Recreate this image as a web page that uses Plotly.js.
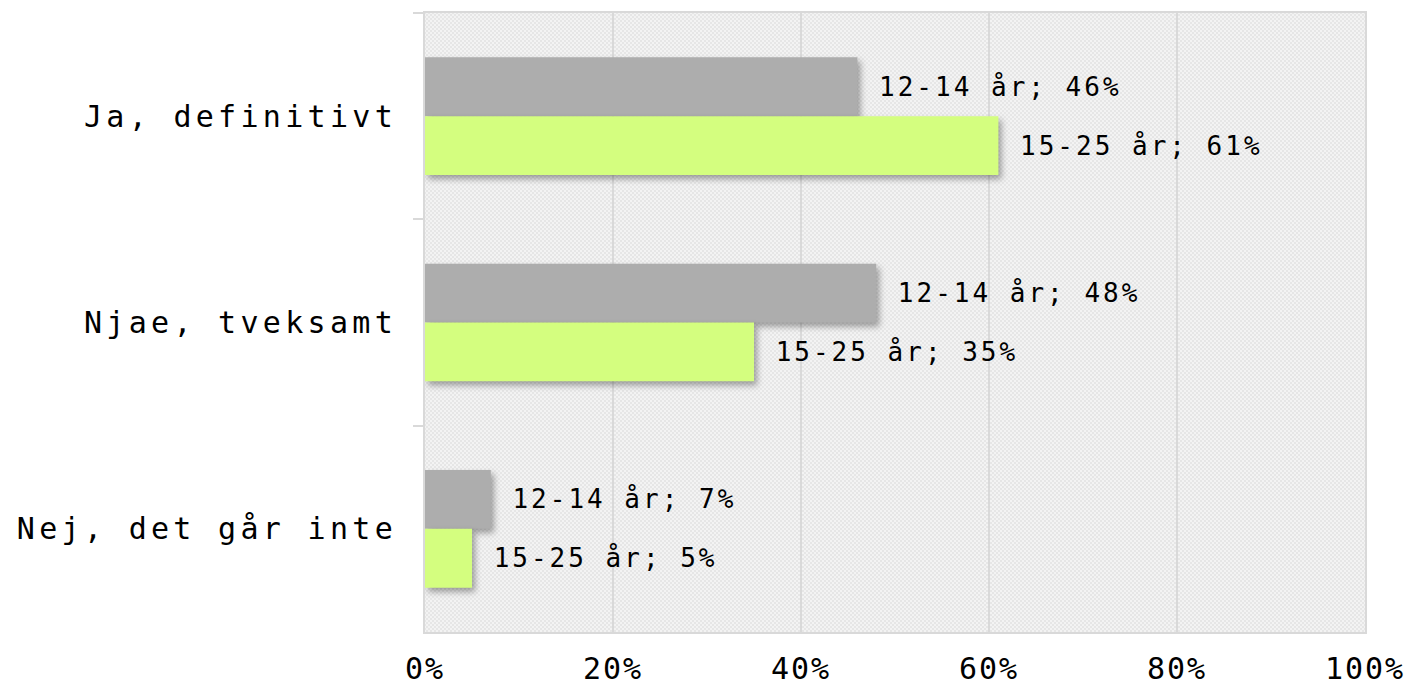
<!DOCTYPE html>
<html>
<head>
<meta charset="utf-8">
<script src="https://cdn.plot.ly/plotly-3.0.1.min.js"></script>
<style>
  html, body { margin: 0; padding: 0; background: #fff; }
  #chart { width: 1412px; height: 688px; }
  .plotly .bars path { filter: drop-shadow(3px 4px 3px rgba(0,0,0,0.35)); }
  text.bartext { letter-spacing: 3px; }
  .plotly .ytick text { letter-spacing: 4.3px; }
  .plotly .xtick text { letter-spacing: 2px; }
  .plotly .bg { fill: url(#chk) !important; }
</style>
</head>
<body>
<svg width="0" height="0" style="position:absolute">
  <defs>
    <pattern id="chk" width="4" height="4" patternUnits="userSpaceOnUse">
      <rect width="4" height="4" fill="#f3f3f3"/>
      <rect x="0" y="0" width="2" height="2" fill="#e6e6e6"/>
      <rect x="2" y="2" width="2" height="2" fill="#e6e6e6"/>
    </pattern>
  </defs>
</svg>
<div id="chart"></div>
<script>
const categories = ["Ja, definitivt", "Njae, tveksamt", "Nej, det går inte"];
const seriesNames = ["12-14 år", "15-25 år"];
const values1214 = [46, 48, 7];
const values1525 = [61, 35, 5];
const seriesColors = ["#adadad", "#d4fe7f"];
const xTickVals = [0, 20, 40, 60, 80, 100];
const xTickText = ["0%", "20%", "40%", "60%", "80%", "100%"];

const mono = "DejaVu Sans Mono, Liberation Mono, monospace";

function barTrace(vals, i) {
  return {
    type: "bar",
    orientation: "h",
    y: categories,
    x: vals,
    name: seriesNames[i],
    marker: { color: seriesColors[i], line: { width: 0 } },
    texttemplate: "\u00a0" + seriesNames[i] + "; %{x}%",
    textposition: "outside",
    constraintext: "none",
    cliponaxis: false,
    textfont: { family: mono, size: 26, color: "#000" },
    hoverinfo: "none"
  };
}

const data = [barTrace(values1214, 0), barTrace(values1525, 1)];

const layout = {
  width: 1412,
  height: 688,
  margin: { l: 425, r: 47, t: 13, b: 56 },
  paper_bgcolor: "#ffffff",
  plot_bgcolor: "#efefef",
  barmode: "group",
  bargap: 0.43,
  bargroupgap: 0,
  showlegend: false,
  xaxis: {
    range: [0, 100],
    tickvals: xTickVals,
    ticktext: xTickText,
    showgrid: true,
    gridcolor: "#d9d9d9",
    gridwidth: 2,
    zeroline: false,
    showline: true,
    linecolor: "#d9d9d9",
    linewidth: 2,
    mirror: true,
    ticks: "outside",
    ticklen: 9,
    tickcolor: "rgba(0,0,0,0)",
    tickfont: { family: mono, size: 30, color: "#000" },
    fixedrange: true
  },
  yaxis: {
    type: "category",
    autorange: "reversed",
    showgrid: false,
    zeroline: false,
    showline: true,
    linecolor: "#d9d9d9",
    linewidth: 2,
    mirror: true,
    ticks: "outside",
    tickson: "boundaries",
    ticklen: 10,
    tickcolor: "#d9d9d9",
    tickwidth: 2,
    ticklabelstandoff: 20,
    tickfont: { family: mono, size: 30, color: "#000" },
    fixedrange: true
  }
};

Plotly.newPlot("chart", data, layout, { displayModeBar: false, staticPlot: true });
</script>
</body>
</html>
